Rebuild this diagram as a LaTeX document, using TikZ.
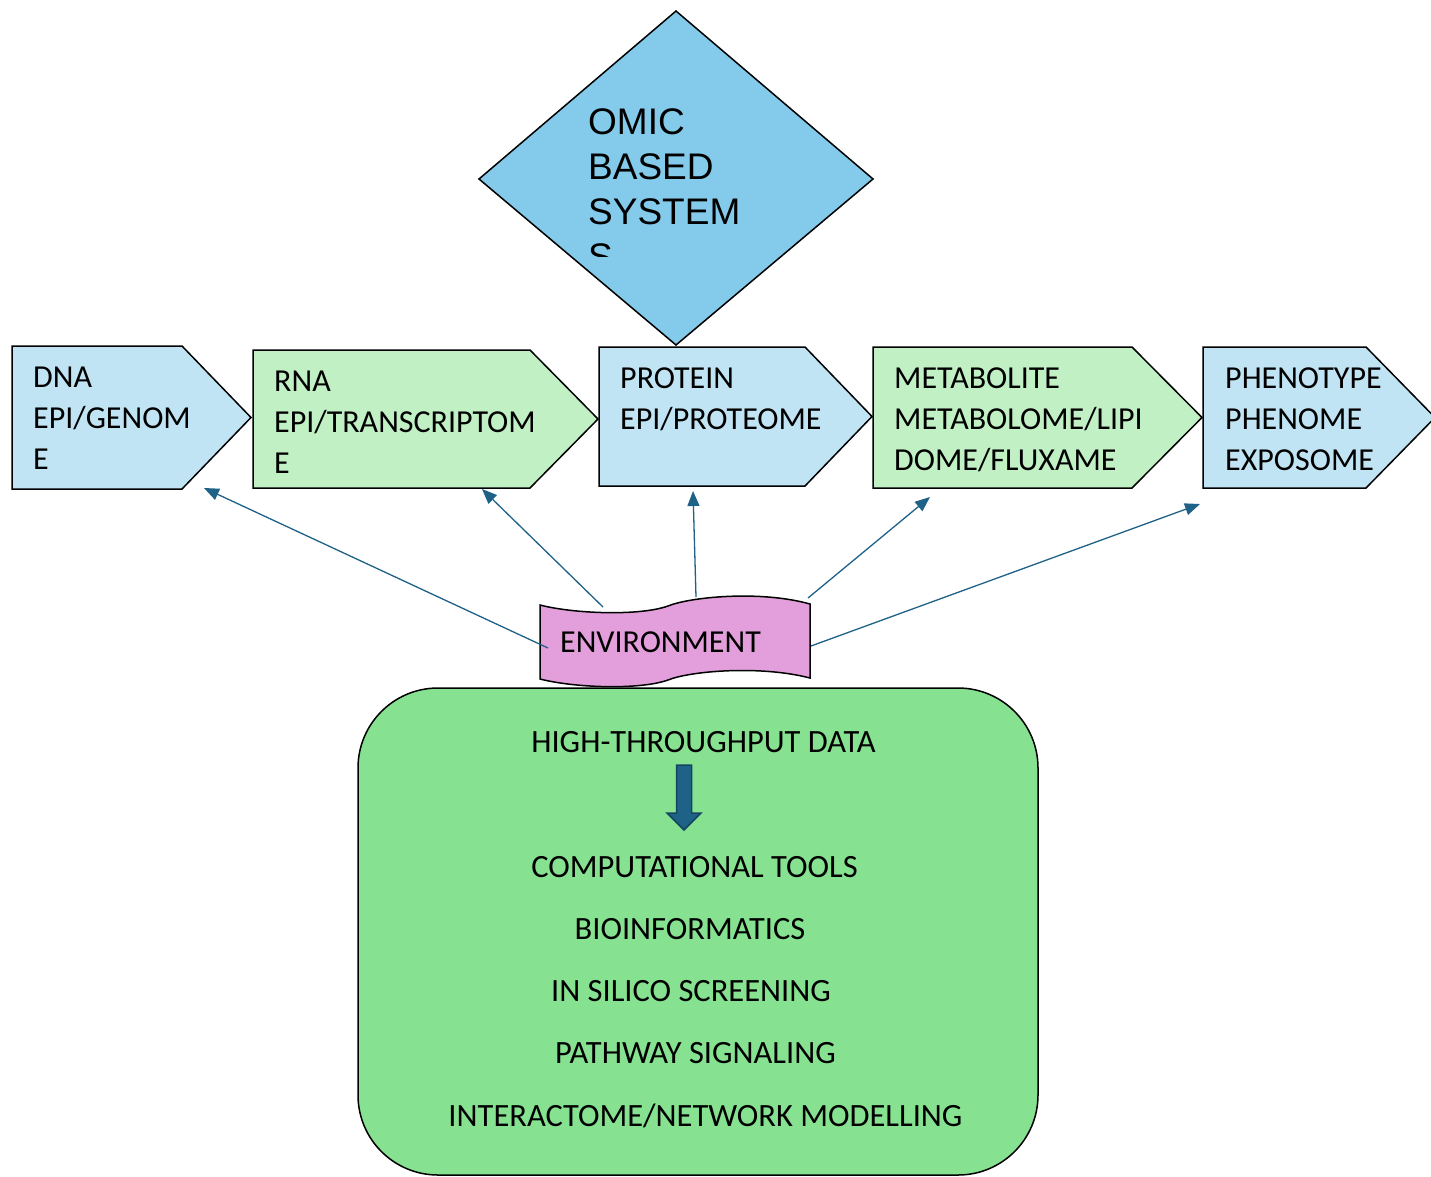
\documentclass[tikz,border=0pt]{standalone}
\usepackage{fontspec}
\setmainfont{Carlito}
\newfontfamily\arialfont{Liberation Sans}
\usetikzlibrary{arrows.meta}

\definecolor{skyfill}{HTML}{84CBEB}
\definecolor{paleblue}{HTML}{C0E4F4}
\definecolor{palegreen}{HTML}{C1F0C5}
\definecolor{envpink}{HTML}{E39FDB}
\definecolor{panelgreen}{HTML}{86E291}
\definecolor{linkblue}{HTML}{1F6287}
\definecolor{linkdark}{HTML}{15455F}

\tikzset{
  outline/.style={draw=black, line width=1.5pt, line join=miter},
  % multi-line labels are anchored at the baseline of their last line
  stagelabel/.style={anchor=base west, inner sep=0pt, align=left,
    font=\fontsize{32}{41}\selectfont},
  paneltext/.style={anchor=base, inner sep=0pt, font=\fontsize{32.5}{41}\selectfont},
  link/.style={draw=linkblue, line width=1.3pt, -{Triangle[length=15pt,width=12pt]}},
}

\begin{document}
\begin{tikzpicture}[x=1pt,y=-1pt]
\useasboundingbox (0,0) rectangle (1431,1176);
\fill[white] (0,0) rectangle (1431,1176);

% central diamond
\draw[outline, fill=skyfill] (676,11) -- (873,179) -- (676,345) -- (479,179) -- cycle;
\begin{scope}
  \clip (560,90) rectangle (800,256);
  \node[anchor=base west, inner sep=0pt, align=left,
        font=\arialfont\fontsize{37}{45}\selectfont] (omic) at (588,269)
        {OMIC\\BASED\\SYSTEM\\S};
\end{scope}

% chain of stages
\draw[outline, fill=paleblue]  (12,346)  -- (182,346)  -- (251,417.5)  -- (182,489)  -- (12,489)  -- cycle;
\draw[outline, fill=palegreen] (253,350) -- (530,350)  -- (598,419)    -- (530,488)  -- (253,488) -- cycle;
\draw[outline, fill=paleblue]  (599,347) -- (805,347)  -- (872,416.5)  -- (805,486)  -- (599,486) -- cycle;
\draw[outline, fill=palegreen] (873,347) -- (1132,347) -- (1202,417.5) -- (1132,488) -- (873,488) -- cycle;
\draw[outline, fill=paleblue]  (1203,347) -- (1366,347) -- (1435,417.5) -- (1366,488) -- (1203,488) -- cycle;

\node[stagelabel] (dna)  at (33,469)   {DNA\\EPI/GENOM\\E};
\node[stagelabel] (rna)  at (274,473)  {RNA\\EPI/TRANSCRIPTOM\\E};
\node[stagelabel] (prot) at (620,429)  {PROTEIN\\EPI/PROTEOME};
\node[stagelabel] (meta) at (894,470)  {METABOLITE\\METABOLOME/LIPI\\DOME/FLUXAME};
\node[stagelabel] (phen) at (1225,470) {PHENOTYPE\\PHENOME\\EXPOSOME};

% tools panel
\draw[outline, fill=panelgreen, rounded corners=80pt] (358,688) rectangle (1038,1175);
\node[paneltext] (htd)  at (703.5,752.5) {HIGH-THROUGHPUT DATA};
\node[paneltext] (comp) at (694.5,877)   {COMPUTATIONAL TOOLS};
\node[paneltext] (bio)  at (690,939.5)   {BIOINFORMATICS};
\node[paneltext] (insi) at (691,1001.5)  {IN SILICO SCREENING};
\node[paneltext] (path) at (695.5,1063.5){PATHWAY SIGNALING};
\node[paneltext] (net)  at (705.5,1126.5){INTERACTOME/NETWORK MODELLING};

% block arrow from data to tools
\draw[draw=linkdark, line width=1.5pt, fill=linkblue, line join=miter]
  (676.5,765) -- (691.5,765) -- (691.5,813) -- (701,813) -- (684,830)
  -- (667,813) -- (676.5,813) -- cycle;

% environment banner
\draw[outline, fill=envpink]
  (540,605) .. controls (575,614) and (640,616) .. (668,606)
            .. controls (690,597) and (760,590) .. (810,604)
  -- (810,678) .. controls (760,665) and (690,671) .. (668,680)
            .. controls (640,690) and (575,688) .. (540,679) -- cycle;
\node[anchor=base, inner sep=0pt, font=\fontsize{32}{40}\selectfont] (env) at (660.5,652) {ENVIRONMENT};

% environment influences on every stage
\coordinate (envA) at (548,648);
\coordinate (envB) at (603,607);
\coordinate (envC) at (696,597);
\coordinate (envD) at (808,598);
\coordinate (envE) at (811,646);
\coordinate (dnaIn)  at (204,488);
\coordinate (rnaIn)  at (482,489);
\coordinate (protIn) at (693,491);
\coordinate (metaIn) at (930,497);
\coordinate (phenIn) at (1200,504);

\draw[link] (envA) -- (dnaIn);
\draw[link] (envB) -- (rnaIn);
\draw[link] (envC) -- (protIn);
\draw[link] (envD) -- (metaIn);
\draw[link] (envE) -- (phenIn);
\end{tikzpicture}
\end{document}
